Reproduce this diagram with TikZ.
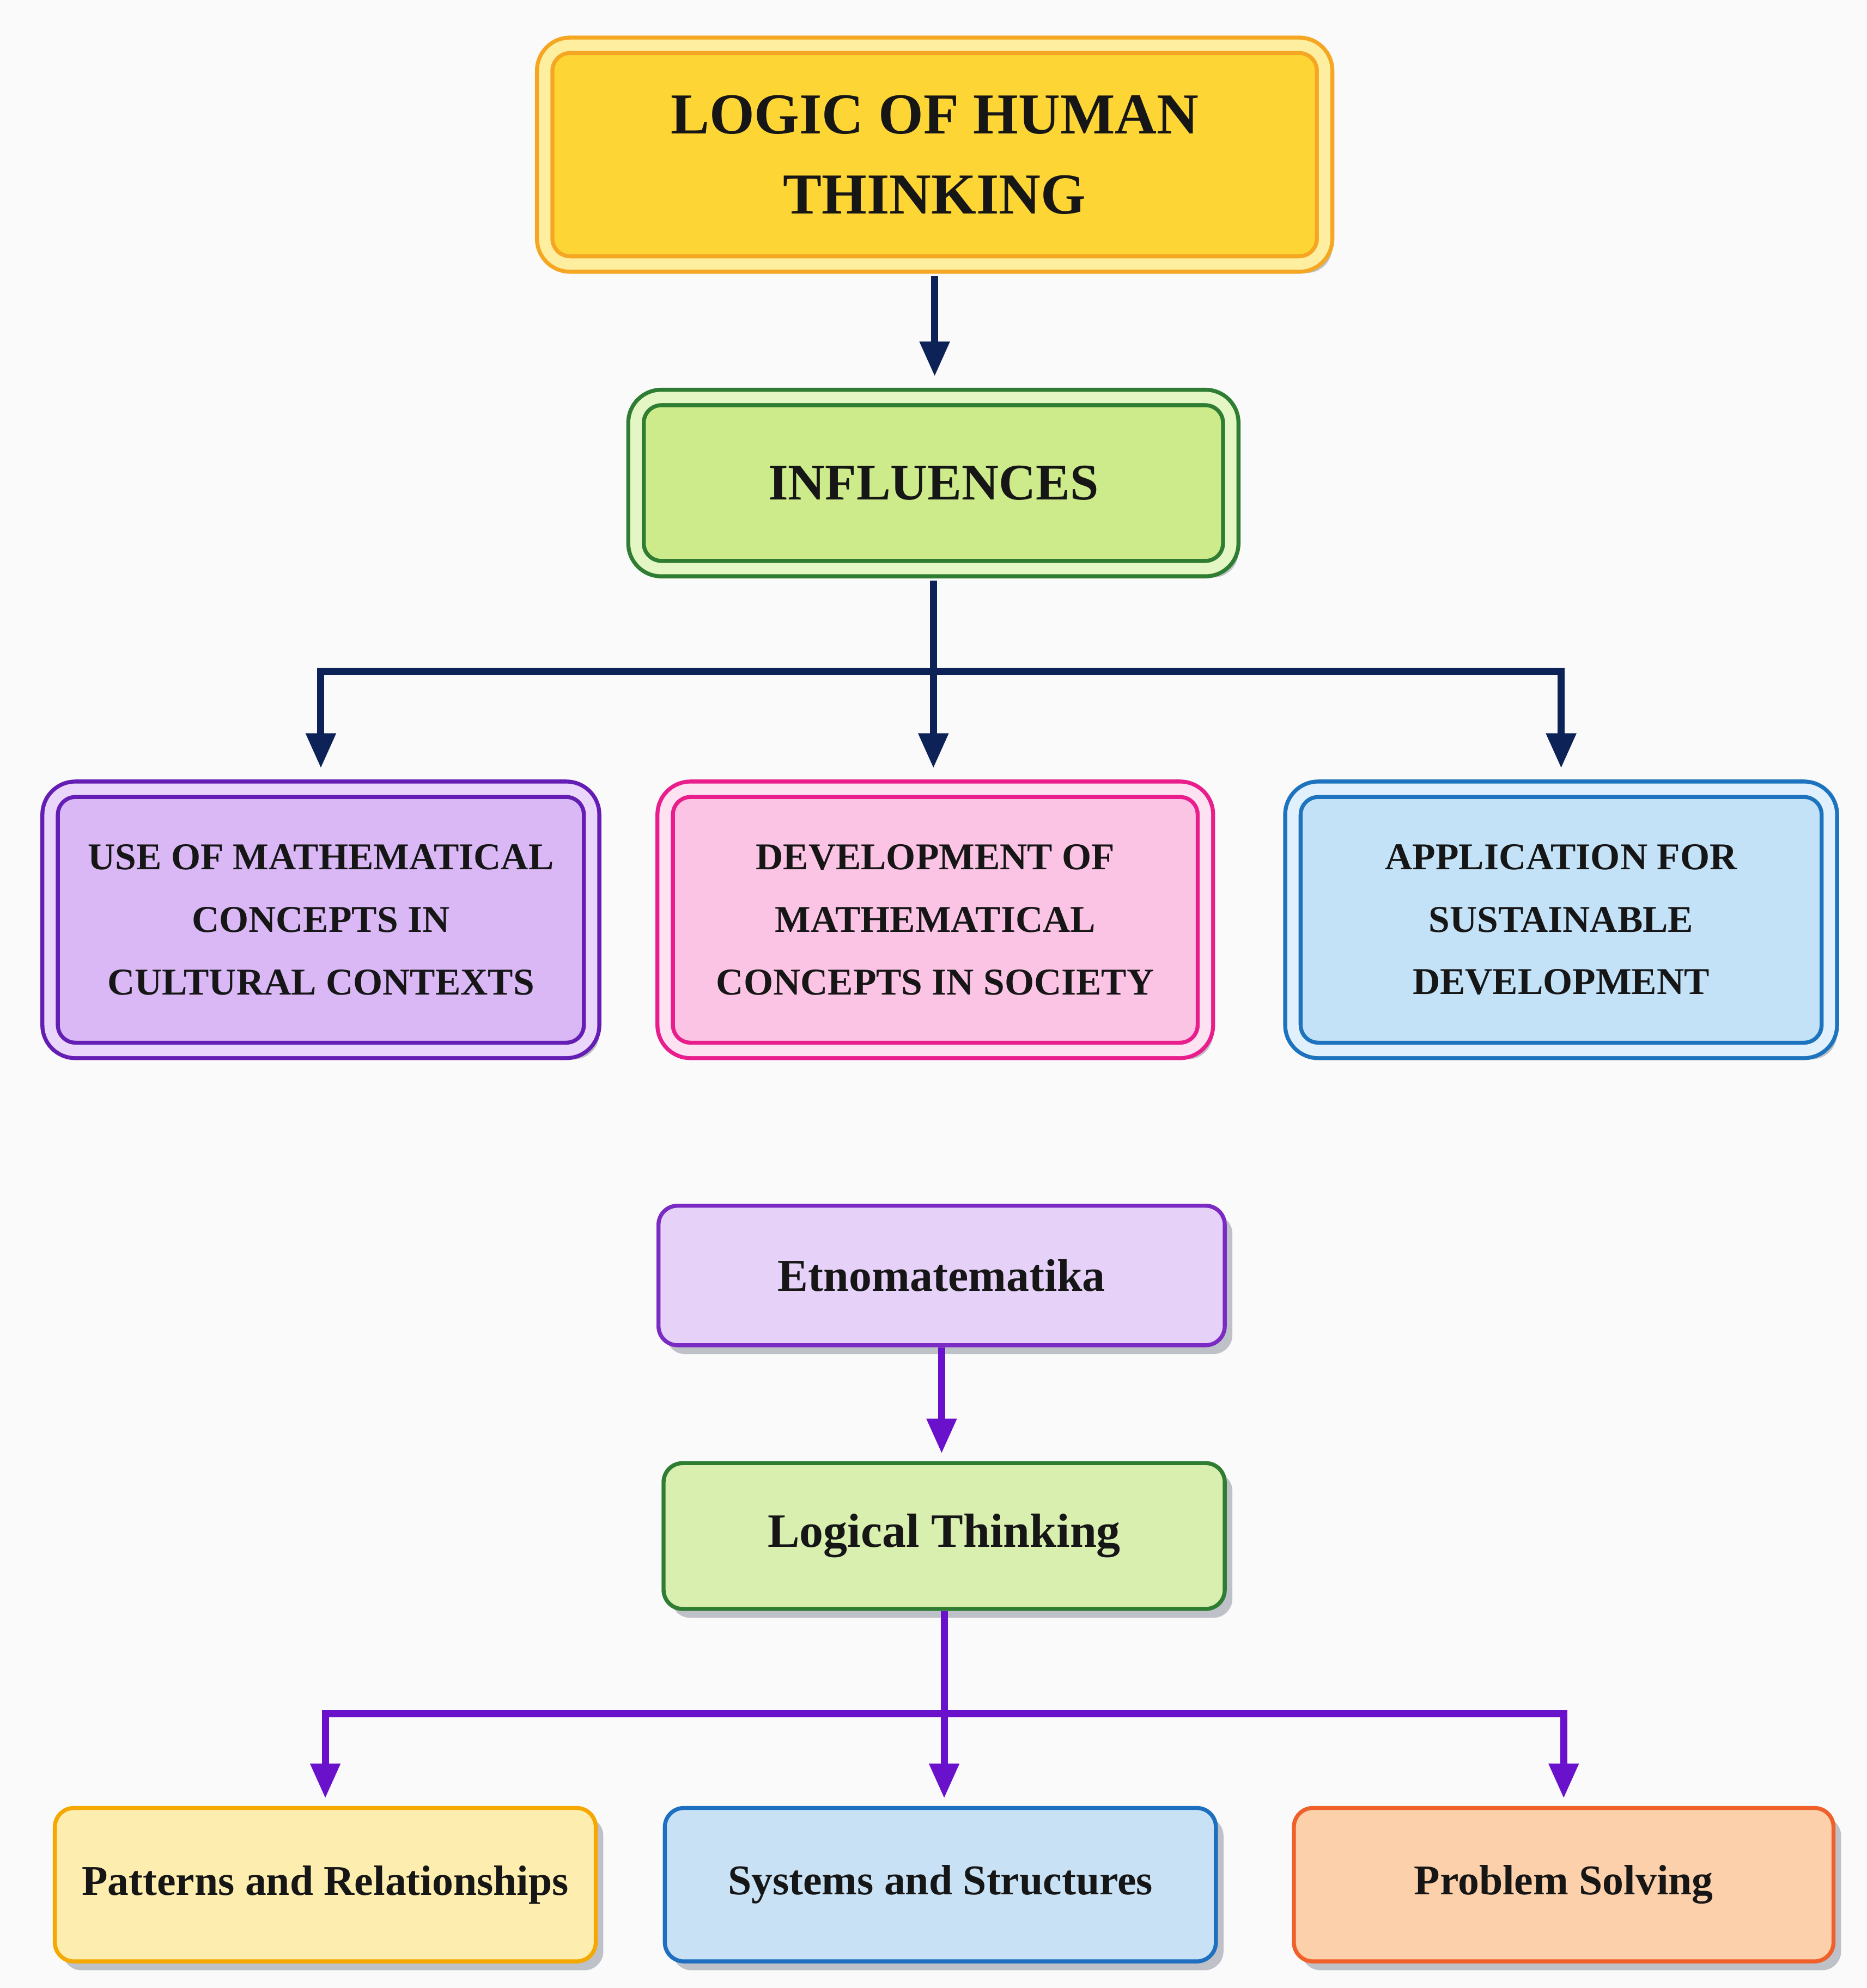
\documentclass[tikz,border=0pt]{standalone}
\usepackage{fontspec}
\setmainfont{Liberation Serif}
\usepackage{xcolor}
\usepackage{tikz}
\usetikzlibrary{arrows.meta, positioning, shadows, calc}
\definecolor{bgwhite}{RGB}{250, 250, 250}
\definecolor{textblack}{RGB}{22, 22, 22}
\definecolor{shadowgray}{RGB}{150, 155, 165}
\definecolor{navyline}{RGB}{13, 34, 87}
\definecolor{violetline}{RGB}{106, 17, 203}
\definecolor{titlefill}{RGB}{253, 213, 53}
\definecolor{titledraw}{RGB}{245, 166, 35}
\definecolor{titleband}{RGB}{253, 238, 160}
\definecolor{inflfill}{RGB}{205, 235, 139}
\definecolor{greendraw}{RGB}{46, 125, 50}
\definecolor{inflband}{RGB}{228, 246, 196}
\definecolor{purplefill}{RGB}{217, 184, 245}
\definecolor{purpledraw}{RGB}{100, 30, 180}
\definecolor{purpleband}{RGB}{234, 214, 250}
\definecolor{pinkfill}{RGB}{251, 196, 228}
\definecolor{pinkdraw}{RGB}{233, 30, 140}
\definecolor{pinkband}{RGB}{253, 226, 241}
\definecolor{bluefill}{RGB}{196, 226, 247}
\definecolor{bluedraw}{RGB}{30, 115, 190}
\definecolor{blueband}{RGB}{224, 240, 252}
\definecolor{etnofill}{RGB}{230, 210, 248}
\definecolor{etnodraw}{RGB}{123, 43, 196}
\definecolor{logicfill}{RGB}{217, 239, 176}
\definecolor{patternfill}{RGB}{253, 237, 175}
\definecolor{patterndraw}{RGB}{245, 168, 0}
\definecolor{systemfill}{RGB}{200, 225, 245}
\definecolor{systemdraw}{RGB}{30, 111, 192}
\definecolor{problemfill}{RGB}{252, 208, 170}
\definecolor{problemdraw}{RGB}{240, 96, 42}

\begin{document}
\begin{tikzpicture}[
    box/.style={rectangle, rounded corners=0.4cm, align=center, text=textblack, draw, line width=1.8pt,
        drop shadow={shadow xshift=0.12cm, shadow yshift=-0.14cm, fill=shadowgray, opacity=0.6}},
    bevel/.style={double=#1, double distance=0.18cm, line width=1.8pt},
    navyarrow/.style={-{Triangle[length=0.55cm, width=0.45cm]}, line width=3.2pt, navyline, shorten <=0.16cm, shorten >=0.3cm},
    violetarrow/.style={-{Triangle[length=0.55cm, width=0.45cm]}, line width=3.2pt, violetline, shorten >=0.12cm}
]
% Background
\fill[bgwhite] (0,0) rectangle (29.44,-31.36);
\useasboundingbox (0,0) rectangle (29.44,-31.36);

% Title
\node[box, bevel=titleband, fill=titlefill, draw=titledraw, minimum width=12.3cm, minimum height=3.45cm,
    font=\bfseries\fontsize{26pt}{36pt}\selectfont] (title) at (14.74,-2.44) {LOGIC OF HUMAN\\THINKING};

% Influences
\node[box, bevel=inflband, fill=inflfill, draw=greendraw, minimum width=9.38cm, minimum height=2.7cm,
    font=\bfseries\fontsize{23pt}{28pt}\selectfont] (infl) at (14.72,-7.62) {INFLUENCES};

% Three influences
\node[box, bevel=purpleband, fill=purplefill, draw=purpledraw, minimum width=8.54cm, minimum height=4.12cm,
    font=\bfseries\fontsize{17pt}{28pt}\selectfont] (cultural) at (5.06,-14.51) {USE OF MATHEMATICAL\\CONCEPTS IN\\CULTURAL CONTEXTS};
\node[box, bevel=pinkband, fill=pinkfill, draw=pinkdraw, minimum width=8.52cm, minimum height=4.12cm,
    font=\bfseries\fontsize{17pt}{28pt}\selectfont] (society) at (14.75,-14.51) {DEVELOPMENT OF\\MATHEMATICAL\\CONCEPTS IN SOCIETY};
\node[box, bevel=blueband, fill=bluefill, draw=bluedraw, minimum width=8.46cm, minimum height=4.12cm,
    font=\bfseries\fontsize{17pt}{28pt}\selectfont] (sustain) at (24.62,-14.51) {APPLICATION FOR\\SUSTAINABLE\\DEVELOPMENT};

% Etnomatematika
\node[box, fill=etnofill, draw=etnodraw, minimum width=8.93cm, minimum height=2.2cm, rounded corners=0.3cm,
    font=\bfseries\fontsize{20.5pt}{24pt}\selectfont] (etno) at (14.85,-20.12) {Etnomatematika};

% Logical thinking
\node[box, fill=logicfill, draw=greendraw, minimum width=8.85cm, minimum height=2.3cm, rounded corners=0.3cm,
    font=\bfseries\fontsize{21.5pt}{24pt}\selectfont] (logical) at (14.89,-24.23) {Logical Thinking};

% Bottom row
\node[box, fill=patternfill, draw=patterndraw, minimum width=8.53cm, minimum height=2.42cm, rounded corners=0.3cm,
    font=\bfseries\fontsize{19pt}{24pt}\selectfont] (patterns) at (5.13,-29.73) {Patterns and Relationships};
\node[box, fill=systemfill, draw=systemdraw, minimum width=8.69cm, minimum height=2.42cm, rounded corners=0.3cm,
    font=\bfseries\fontsize{19pt}{24pt}\selectfont] (systems) at (14.83,-29.73) {Systems and Structures};
\node[box, fill=problemfill, draw=problemdraw, minimum width=8.51cm, minimum height=2.42cm, rounded corners=0.3cm,
    font=\bfseries\fontsize{19pt}{24pt}\selectfont] (problem) at (24.66,-29.73) {Problem Solving};

% Arrows (upper part)
\draw[navyarrow] (title.south) -- (title.south |- infl.north);
\draw[navyarrow] (infl.south) -- ++(0,-1.59) -| (cultural.north);
\draw[navyarrow] (infl.south) -- (infl.south |- society.north);
\draw[navyarrow] (infl.south) -- ++(0,-1.59) -| (sustain.north);

% Arrows (lower part)
\draw[violetarrow] (etno.south) -- (etno.south |- logical.north);
\draw[violetarrow] (logical.south) -- ++(0,-1.62) -| (patterns.north);
\draw[violetarrow] (logical.south) -- (logical.south |- systems.north);
\draw[violetarrow] (logical.south) -- ++(0,-1.62) -| (problem.north);
\end{tikzpicture}
\end{document}
